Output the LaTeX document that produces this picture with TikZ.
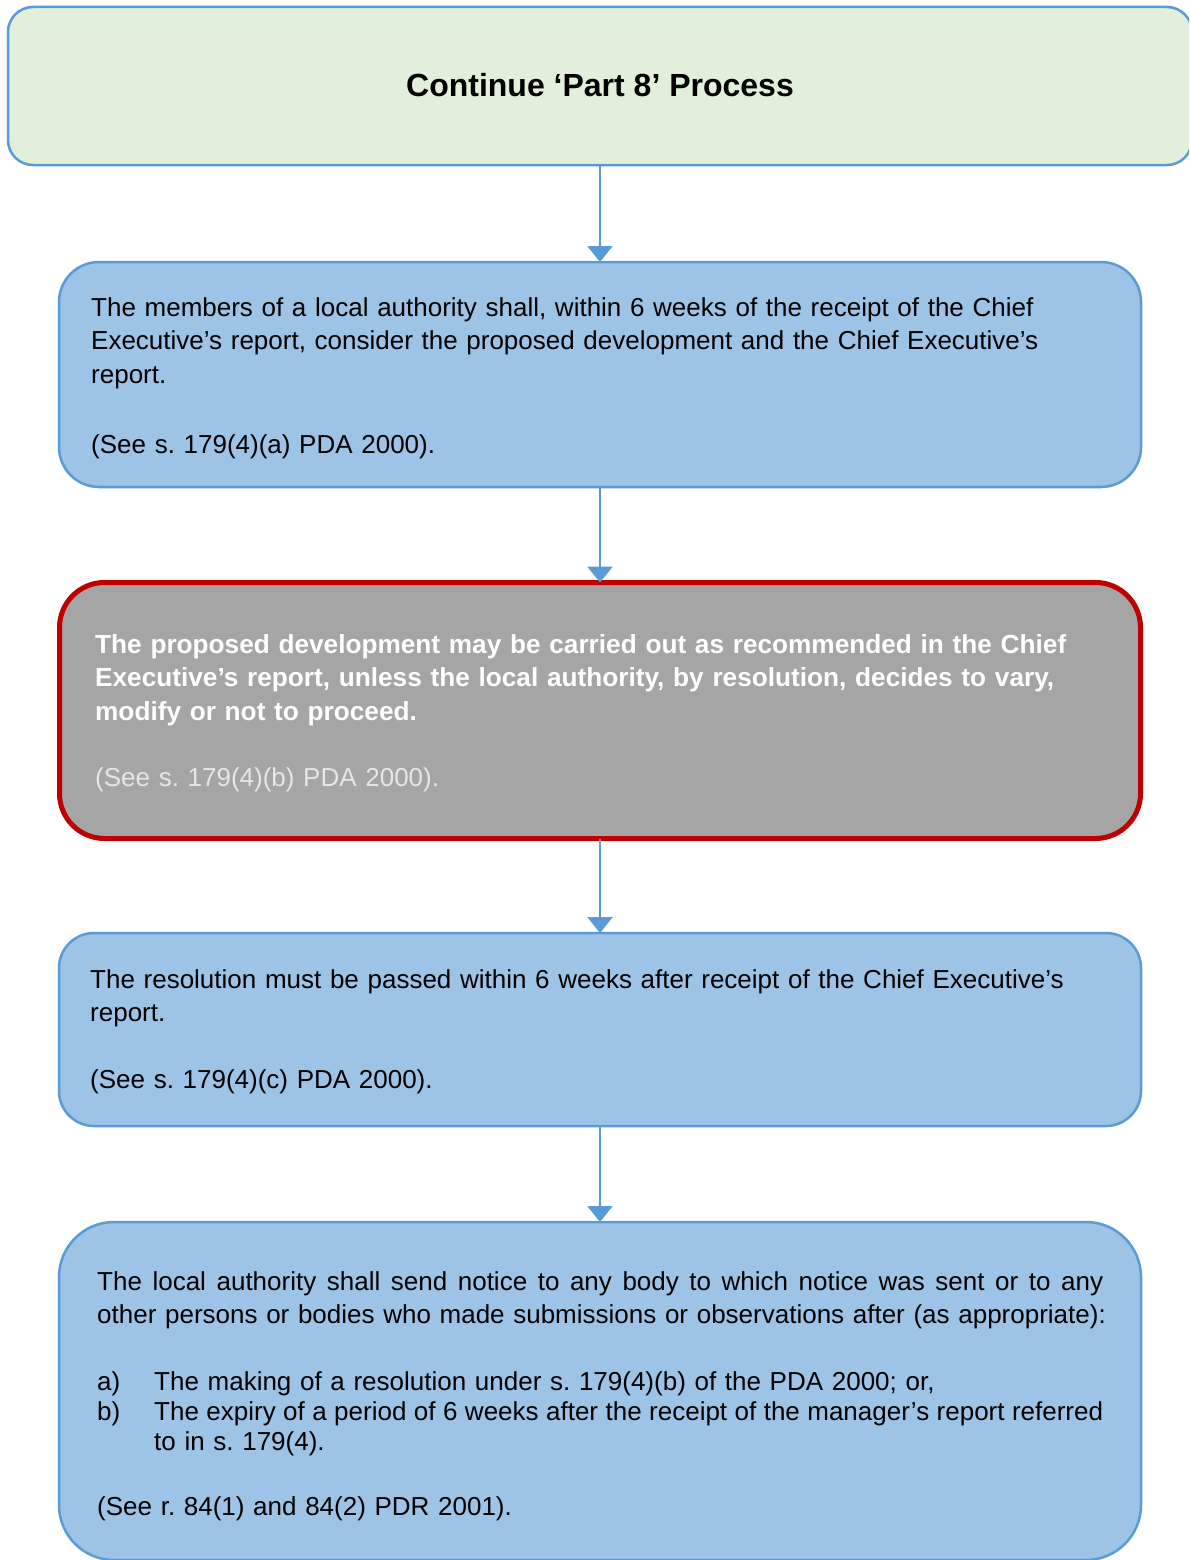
\documentclass[tikz,border=0pt]{standalone}
\usepackage{fontspec}
\setmainfont{Liberation Sans}
\usetikzlibrary{arrows.meta}
\definecolor{boxgreen}{HTML}{E2EFDA}
\definecolor{boxblue}{HTML}{9DC3E6}
\definecolor{edgeblue}{HTML}{5B9BD5}
\definecolor{boxgrey}{HTML}{A5A5A5}
\definecolor{edgered}{HTML}{C00000}
\definecolor{refgrey}{HTML}{E7E6E6}
\frenchspacing
% a line set flush to both margins, with the font's own stretchable spaces
\newcommand{\fullline}[2]{\hbox to #1{\spaceskip=0pt\xspaceskip=0pt #2}}

\begin{document}
\begin{tikzpicture}[x=1pt,y=-1pt,
  panel/.style={draw=edgeblue,line width=2.5pt,fill=boxblue,inner sep=0pt,outer sep=0pt},
  body/.style={anchor=base west,inner sep=0pt,align=left,text width=1070pt,
    font=\fontsize{26}{33.5}\selectfont},
  link/.style={draw=edgeblue,line width=2.5pt,-{Triangle[width=25pt,length=16pt]}}]

\useasboundingbox (0,0) rectangle (1189,1560);
\clip (0,0) rectangle (1189,1560);

% process boxes
\node[panel,fill=boxgreen,rounded corners=25pt,minimum width=1184pt,minimum height=158pt] (b1) at (600,86) {};
\node[panel,rounded corners=40pt,minimum width=1082pt,minimum height=225pt] (b2) at (600,374.5) {};
\node[panel,draw=edgered,line width=5pt,fill=boxgrey,rounded corners=45pt,minimum width=1081pt,minimum height=256pt] (b3) at (600,710.5) {};
\node[panel,rounded corners=35pt,minimum width=1082pt,minimum height=193pt] (b4) at (600,1029.5) {};
\node[panel,rounded corners=55pt,minimum width=1082pt,minimum height=338pt] (b5) at (600,1391) {};

% connectors
\draw[link] (b1.south) -- (b2.north);
\draw[link] (b2.south) -- (b3.north);
\draw[link] (b3.south) -- (b4.north);
\draw[link] (b4.south) -- (b5.north);

% title
\node[anchor=base,inner sep=0pt,font=\fontsize{32}{38}\selectfont\bfseries] (title) at (600,97) {Continue ‘Part 8’ Process};

% members' consideration
\node[body] (t2) at (91,316) {The members of a local authority shall, within 6 weeks of the receipt of the Chief\\Executive’s report, consider the proposed development and the Chief Executive’s\\report.};
\node[body] (r2) at (91,453) {(See s. 179(4)(a) PDA 2000).};

% default outcome
\node[body,text=white,font=\fontsize{26.2}{33.5}\selectfont\bfseries] (t3) at (95,653) {The proposed development may be carried out as recommended in the Chief\\Executive’s report, unless the local authority, by resolution, decides to vary,\\modify or not to proceed.};
\node[body,text=refgrey] (r3) at (95,786) {(See s. 179(4)(b) PDA 2000).};

% resolution deadline
\node[body] (t4) at (90,988) {The resolution must be passed within 6 weeks after receipt of the Chief Executive’s\\report.};
\node[body] (r4) at (90,1088) {(See s. 179(4)(c) PDA 2000).};

% notice
\node[body] (t5) at (97,1290) {\fullline{1006pt}{The local authority shall send notice to any body to which notice was sent or to any}\\other persons or bodies who made submissions or observations after (as appropriate):};
\node[body,font=\fontsize{26}{30}\selectfont] (l5) at (97,1390) {\makebox[57pt][l]{a)}The making of a resolution under s. 179(4)(b) of the PDA 2000; or,\\\makebox[57pt][l]{b)}\fullline{949pt}{The expiry of a period of 6 weeks after the receipt of the manager’s report referred}\\\hspace*{57pt}to in s. 179(4).};
\node[body] (r5) at (97,1515) {(See r. 84(1) and 84(2) PDR 2001).};

\end{tikzpicture}
\end{document}
